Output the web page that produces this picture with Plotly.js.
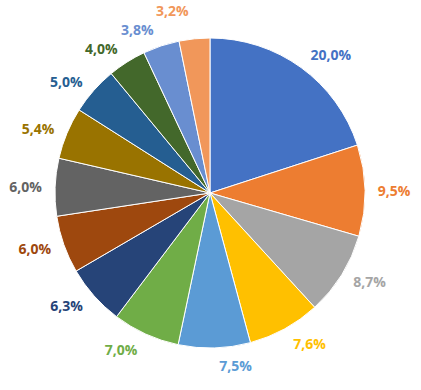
<!DOCTYPE html>
<html>
<head>
<meta charset="utf-8">
<script src="https://cdn.plot.ly/plotly-3.0.1.min.js"></script>
<style>html,body{margin:0;padding:0;background:#fff;}#chart{width:421px;height:390px;} .textline{display:none;}</style>
</head>
<body>
<div id="chart"></div>
<script>
const categories = ['A','B','C','D','E','F','G','H','I','J','K','L','M','N'];
const values = [20.0, 9.5, 8.7, 7.6, 7.5, 7.0, 6.3, 6.0, 6.0, 5.4, 5.0, 4.0, 3.8, 3.2];
const colors = ['#4472C4','#ED7D31','#A5A5A5','#FFC000','#5B9BD5','#70AD47','#264478','#9E480E','#636363','#997300','#255E91','#43682B','#698ED0','#F1975A'];

const clear = values.map(() => 'rgba(0,0,0,0)');

Plotly.newPlot('chart', [
{
  // invisible, slightly larger pie that carries the labels further out
  type: 'pie',
  labels: categories,
  values: values,
  sort: false,
  direction: 'clockwise',
  rotation: 0,
  marker: {colors: clear, line: {width: 0}},
  textposition: 'outside',
  texttemplate: '%{value:.1f}%',
  outsidetextfont: {color: colors, size: 14, family: 'Open Sans, sans-serif', weight: 'bold'},
  hoverinfo: 'none',
  showlegend: false,
  domain: {x: [0.1116, 0.8860], y: [0.0872, 0.9231]}
},
{
  type: 'pie',
  labels: categories,
  values: values,
  sort: false,
  direction: 'clockwise',
  rotation: 0,
  marker: {colors: colors, line: {color: '#ffffff', width: 1}},
  textinfo: 'none',
  hoverinfo: 'none',
  showlegend: false,
  domain: {x: [0.1306, 0.8670], y: [0.1077, 0.9026]}
}], {
  width: 421,
  height: 390,
  margin: {l: 0, r: 0, t: 0, b: 0},
  separators: ', ',
  paper_bgcolor: '#ffffff',
  showlegend: false
}, {displayModeBar: false, staticPlot: true});
</script>
</body>
</html>
